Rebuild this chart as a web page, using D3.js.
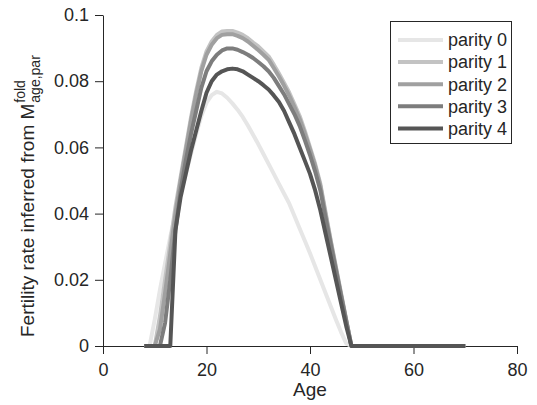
<!DOCTYPE html>
<html>
<head>
<meta charset="utf-8">
<script src="https://cdn.jsdelivr.net/npm/d3@7"></script>
<style>
  body { margin: 0; background: #fff; }
  text { font-family: "Liberation Sans", Arial, sans-serif; fill: #262626; }
</style>
</head>
<body>
<div id="chart"></div>
<script>
// Ages on the x axis (one value per year)
const ages = d3.range(8, 71);

// Fertility rate per parity, ages 8..70
const parity0 = [
    0, 0,
    0.008, 0.017, 0.025, 0.033, 0.040, 0.046, 0.052, 0.058, 0.064, 0.0695,
    0.0735, 0.0758, 0.0768, 0.0763, 0.0750, 0.0733, 0.0714, 0.0692, 0.0666, 0.0638,
    0.0610, 0.0580, 0.0550, 0.0520, 0.0490, 0.0460, 0.0430, 0.0393, 0.0355, 0.0318,
    0.0280, 0.0240, 0.0200, 0.0160, 0.0120, 0.0080, 0.0042, 0.0008, 0, 0,
    0, 0, 0, 0, 0, 0, 0, 0, 0, 0,
    0, 0, 0, 0, 0, 0, 0, 0, 0, 0,
    0
];
const parity1 = [
    0, 0,
    0, 0.009, 0.020, 0.031, 0.042, 0.051, 0.060, 0.069, 0.077, 0.084,
    0.089, 0.092, 0.094, 0.095, 0.0952, 0.0952, 0.0947, 0.0940, 0.0930, 0.0917,
    0.0905, 0.0890, 0.0875, 0.0850, 0.0823, 0.0795, 0.0765, 0.0730, 0.0695, 0.0650,
    0.0600, 0.0550, 0.0490, 0.0405, 0.0320, 0.0240, 0.0160, 0.0080, 0, 0,
    0, 0, 0, 0, 0, 0, 0, 0, 0, 0,
    0, 0, 0, 0, 0, 0, 0, 0, 0, 0,
    0
];
const parity2 = [
    0, 0,
    0, 0.005, 0.016, 0.028, 0.040, 0.050, 0.059, 0.068, 0.076, 0.083,
    0.088, 0.091, 0.093, 0.094, 0.0942, 0.0942, 0.0937, 0.0930, 0.0920, 0.0907,
    0.0894, 0.0880, 0.0865, 0.0840, 0.0814, 0.0786, 0.0756, 0.0722, 0.0686, 0.0642,
    0.0594, 0.0544, 0.0484, 0.0398, 0.0316, 0.0236, 0.0156, 0.0077, 0, 0,
    0, 0, 0, 0, 0, 0, 0, 0, 0, 0,
    0, 0, 0, 0, 0, 0, 0, 0, 0, 0,
    0
];
const parity3 = [
    0, 0,
    0, 0, 0.007, 0.020, 0.035, 0.047, 0.056, 0.064, 0.071, 0.078,
    0.083, 0.086, 0.088, 0.0893, 0.0899, 0.0899, 0.0895, 0.0888, 0.0880, 0.0870,
    0.0858, 0.0845, 0.0830, 0.0810, 0.0785, 0.0760, 0.0730, 0.0700, 0.0665, 0.0622,
    0.0577, 0.0527, 0.0470, 0.0388, 0.0308, 0.0230, 0.0152, 0.0075, 0, 0,
    0, 0, 0, 0, 0, 0, 0, 0, 0, 0,
    0, 0, 0, 0, 0, 0, 0, 0, 0, 0,
    0
];
const parity4 = [
    0, 0,
    0, 0, 0, 0, 0.035, 0.045, 0.052, 0.059, 0.065, 0.071,
    0.0765, 0.0800, 0.0820, 0.0830, 0.0836, 0.0838, 0.0836, 0.0830, 0.0820, 0.0810,
    0.0800, 0.0788, 0.0775, 0.0757, 0.0737, 0.0710, 0.0675, 0.0640, 0.0600, 0.0560,
    0.0520, 0.0470, 0.0410, 0.0340, 0.0270, 0.0200, 0.0130, 0.0060, 0, 0,
    0, 0, 0, 0, 0, 0, 0, 0, 0, 0,
    0, 0, 0, 0, 0, 0, 0, 0, 0, 0,
    0
];

const seriesNames = ['parity 0', 'parity 1', 'parity 2', 'parity 3', 'parity 4'];
const seriesValues = [parity0, parity1, parity2, parity3, parity4];
const seriesColors = ['#e6e6e6', '#c3c3c3', '#a0a0a0', '#7d7d7d', '#555555'];

const xTicks = [0, 20, 40, 60, 80];
const yTicks = [0, 0.02, 0.04, 0.06, 0.08, 0.1];

const width = 537;
const height = 405;

const svg = d3.select('#chart')
    .append('svg')
    .attr('width', width)
    .attr('height', height);

const xScale = d3.scaleLinear().domain([0, 80]).range([103, 517]);
const yScale = d3.scaleLinear().domain([0, 0.1]).range([346, 15]);

// Axes
const xAxis = svg.append('g')
    .attr('transform', `translate(0,${yScale(0)})`)
    .call(d3.axisBottom(xScale).tickValues(xTicks).tickSize(8).tickSizeOuter(0).tickPadding(9));

const yAxis = svg.append('g')
    .attr('transform', `translate(${xScale(0)},0)`)
    .call(d3.axisLeft(yScale).tickValues(yTicks).tickFormat(d3.format('~g')).tickSize(8).tickSizeOuter(0).tickPadding(6));

[xAxis, yAxis].forEach(ax => {
    ax.selectAll('path, line').attr('stroke', '#262626');
    ax.selectAll('text').style('font-size', '18px').attr('fill', '#262626');
});

// Lines
const line = d3.line()
    .x((d, i) => xScale(ages[i]))
    .y(d => yScale(d));

seriesValues.forEach((vals, k) => {
    svg.append('path')
        .datum(vals)
        .attr('fill', 'none')
        .attr('stroke', seriesColors[k])
        .attr('stroke-width', 4)
        .attr('stroke-linejoin', 'round')
        .attr('d', line);
});

// Axis labels
svg.append('text')
    .attr('x', xScale(40))
    .attr('y', 396)
    .attr('text-anchor', 'middle')
    .style('font-size', '19px')
    .text('Age');

const yLab = svg.append('g')
    .attr('transform', 'translate(34,337) rotate(-90)');
const mainLab = yLab.append('text')
    .attr('x', 0)
    .attr('y', 0)
    .style('font-size', '19px')
    .text('Fertility rate inferred from M');
const labW = mainLab.node().getComputedTextLength();
yLab.append('text')
    .attr('x', labW + 1)
    .attr('y', 6)
    .style('font-size', '14px')
    .text('age,par');
yLab.append('text')
    .attr('x', labW + 1)
    .attr('y', -9)
    .style('font-size', '14px')
    .text('fold');

// Legend
const legend = svg.append('g');
legend.append('rect')
    .attr('x', 390.5)
    .attr('y', 21.5)
    .attr('width', 121)
    .attr('height', 122)
    .attr('fill', '#fff')
    .attr('stroke', '#262626');

seriesNames.forEach((name, k) => {
    const cy = 40 + k * 22.1;
    legend.append('line')
        .attr('x1', 398)
        .attr('x2', 443)
        .attr('y1', cy)
        .attr('y2', cy)
        .attr('stroke', seriesColors[k])
        .attr('stroke-width', 4);
    legend.append('text')
        .attr('x', 448)
        .attr('y', cy)
        .attr('dy', '0.35em')
        .style('font-size', '18px')
        .text(name);
});
</script>
</body>
</html>
